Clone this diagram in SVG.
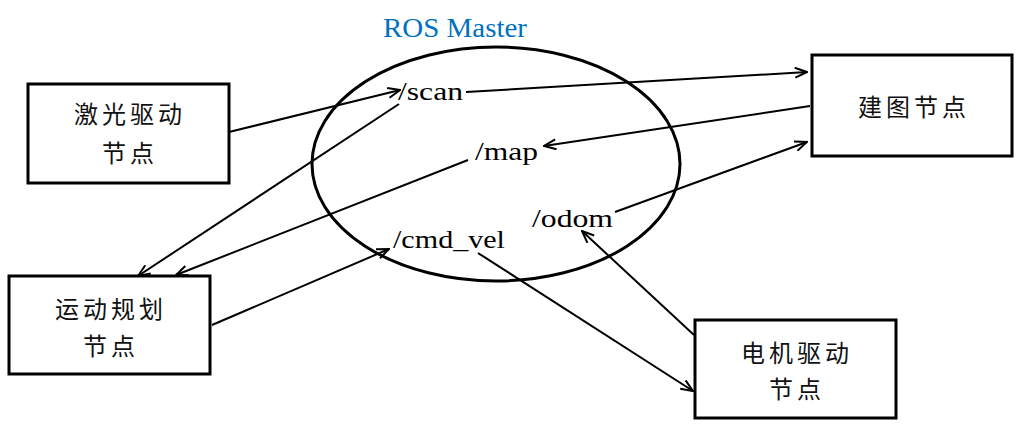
<svg xmlns="http://www.w3.org/2000/svg" width="1027" height="437" viewBox="0 0 1027 437">
<style>
.box{fill:#fff;stroke:#000;stroke-width:3}
.cn{font-family:"Noto Sans CJK SC","Noto Sans",sans-serif;font-size:24px;letter-spacing:4px;text-anchor:middle;fill:#111}
.lbl{font-family:"Liberation Serif",serif;font-size:26px;fill:#000}
.ln{fill:none;stroke:#000;stroke-width:2;marker-end:url(#ah)}
.ln2{fill:none;stroke:#000;stroke-width:2}
</style>
<defs>
<marker id="ah" viewBox="0 0 14 12" refX="13" refY="6" markerWidth="14" markerHeight="12" markerUnits="userSpaceOnUse" orient="auto">
<path d="M1,1 L13,6 L1,11" fill="none" stroke="#000" stroke-width="2"/>
</marker>
</defs>
<rect width="1027" height="437" fill="#fff"/>
<g id="master">
<ellipse cx="496" cy="164" rx="184" ry="117" fill="none" stroke="#000" stroke-width="3"/>
<text x="455" y="37" font-family="Liberation Serif,serif" font-size="27" fill="#0070C0" text-anchor="middle" textLength="144" lengthAdjust="spacingAndGlyphs">ROS Master</text>
<text class="lbl" x="398" y="100" textLength="65" lengthAdjust="spacingAndGlyphs">/scan</text>
<text class="lbl" x="475" y="160" textLength="63" lengthAdjust="spacingAndGlyphs">/map</text>
<text class="lbl" x="532" y="227" textLength="81" lengthAdjust="spacingAndGlyphs">/odom</text>
<text class="lbl" x="393" y="248" textLength="112" lengthAdjust="spacingAndGlyphs">/cmd_vel</text>
</g>
<g id="connectors">
<path class="ln" d="M229,132 L400,90"/>
<path class="ln" d="M399,104 L138,276"/>
<path class="ln" d="M466,92 L807,72"/>
<path class="ln" d="M810,106 L544,146"/>
<path class="ln" d="M468,160 L176,275"/>
<path class="ln" d="M212,325 L389,249"/>
<path class="ln" d="M478,253 L693,391"/>
<path class="ln" d="M694,335 L582,231"/>
<path class="ln" d="M615,212 L807,142"/>
</g>
<g id="laser">
<rect class="box" x="28" y="84" width="201" height="99"/>
<text class="cn" x="130" y="123">激光驱动</text>
<text class="cn" x="130" y="162">节点</text>
</g>
<g id="planner">
<rect class="box" x="9" y="276" width="201" height="98"/>
<text class="cn" x="111" y="318">运动规划</text>
<text class="cn" x="111" y="355">节点</text>
</g>
<g id="mapping">
<rect class="box" x="812" y="55" width="200" height="101"/>
<text class="cn" x="914" y="116">建图节点</text>
</g>
<g id="motor">
<rect class="box" x="695" y="320" width="201" height="98"/>
<text class="cn" x="797" y="362">电机驱动</text>
<text class="cn" x="797" y="398">节点</text>
</g>
</svg>
